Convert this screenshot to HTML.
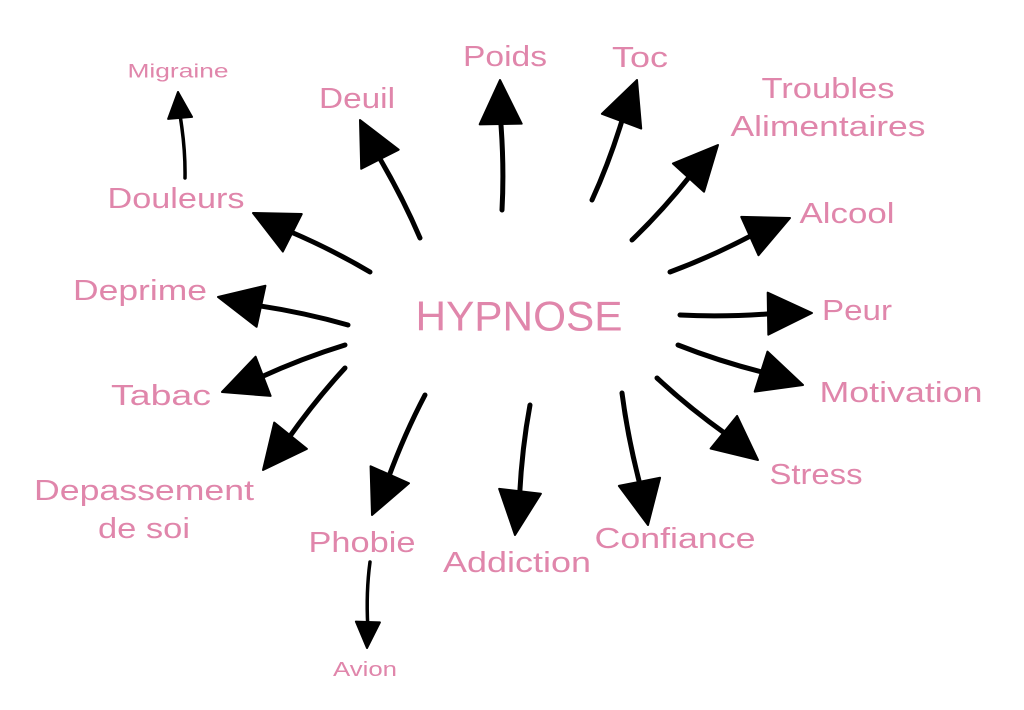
<!DOCTYPE html>
<html><head><meta charset="utf-8"><style>
html,body{margin:0;padding:0;background:#fff;}
svg{display:block;}
text{font-family:"Liberation Sans",sans-serif;fill:#e086ab;text-anchor:middle;dominant-baseline:central;}
</style></head><body>
<svg id="s" width="1024" height="710" viewBox="0 0 1024 710" xmlns="http://www.w3.org/2000/svg">
<g id="arrows"></g>
<text x="519" y="316" font-size="42" textLength="207" lengthAdjust="spacingAndGlyphs">HYPNOSE</text>
<text x="178" y="72" font-size="19" textLength="101" lengthAdjust="spacingAndGlyphs">Migraine</text>
<text x="357" y="99" font-size="29" textLength="76" lengthAdjust="spacingAndGlyphs">Deuil</text>
<text x="505" y="57" font-size="29" textLength="84" lengthAdjust="spacingAndGlyphs">Poids</text>
<text x="640" y="58" font-size="29" textLength="56" lengthAdjust="spacingAndGlyphs">Toc</text>
<text x="828" y="89" font-size="29" textLength="133" lengthAdjust="spacingAndGlyphs">Troubles</text>
<text x="828" y="127" font-size="29" textLength="195" lengthAdjust="spacingAndGlyphs">Alimentaires</text>
<text x="847" y="214" font-size="29" textLength="95" lengthAdjust="spacingAndGlyphs">Alcool</text>
<text x="176" y="199" font-size="29" textLength="137" lengthAdjust="spacingAndGlyphs">Douleurs</text>
<text x="140" y="291" font-size="29" textLength="134" lengthAdjust="spacingAndGlyphs">Deprime</text>
<text x="857" y="311" font-size="29" textLength="70" lengthAdjust="spacingAndGlyphs">Peur</text>
<text x="901" y="393" font-size="29" textLength="163" lengthAdjust="spacingAndGlyphs">Motivation</text>
<text x="161" y="396" font-size="29" textLength="100" lengthAdjust="spacingAndGlyphs">Tabac</text>
<text x="816" y="475" font-size="29" textLength="93" lengthAdjust="spacingAndGlyphs">Stress</text>
<text x="144" y="491" font-size="29" textLength="220" lengthAdjust="spacingAndGlyphs">Depassement</text>
<text x="144" y="529" font-size="29" textLength="92" lengthAdjust="spacingAndGlyphs">de soi</text>
<text x="675" y="539" font-size="29" textLength="161" lengthAdjust="spacingAndGlyphs">Confiance</text>
<text x="362" y="543" font-size="29" textLength="107" lengthAdjust="spacingAndGlyphs">Phobie</text>
<text x="517" y="563" font-size="29" textLength="148" lengthAdjust="spacingAndGlyphs">Addiction</text>
<text x="365" y="670" font-size="20" textLength="64" lengthAdjust="spacingAndGlyphs">Avion</text>
</svg>
<script>
var A=[[420,238,360,120,1],[502,210,500,80,1],[592,200,637,80,1],[632,240,718,145,1],[670,272,790,218,1],[680,315,812,313,1],[678,345,803,385,1],[657,378,758,460,1],[622,393,648,525,1],[530,405,515,535,1],[425,395,372,515,1],[345,368,263,470,1],[345,345,222,392,1],[348,325,218,297,1],[370,272,253,213,1],[185,178,178,92,0],[370,562,367,648,0]];
var g=document.getElementById('arrows'),h='';
A.forEach(function(a){
 var dx=a[2]-a[0],dy=a[3]-a[1],L=Math.hypot(dx,dy),ux=dx/L,uy=dy/L,px=-uy,py=ux;
 var hl=a[4]?44:26,hw=a[4]?21:12,sw=a[4]?5:3.5;
 var bx=a[2]-ux*hl,by=a[3]-uy*hl;
 var mx=(a[0]+bx)/2+px*3,my=(a[1]+by)/2+py*3;
 h+='<path d="M'+a[0]+' '+a[1]+' Q'+mx+' '+my+' '+(bx+ux*4)+' '+(by+uy*4)+'" stroke="#000" stroke-width="'+sw+'" fill="none" stroke-linecap="round"/>';
 h+='<polygon points="'+a[2]+','+a[3]+' '+(bx+px*hw)+','+(by+py*hw)+' '+(bx-px*hw)+','+(by-py*hw)+'" fill="#000" stroke="#000" stroke-width="2" stroke-linejoin="round"/>';
});
g.innerHTML=h;
</script>
</body></html>
